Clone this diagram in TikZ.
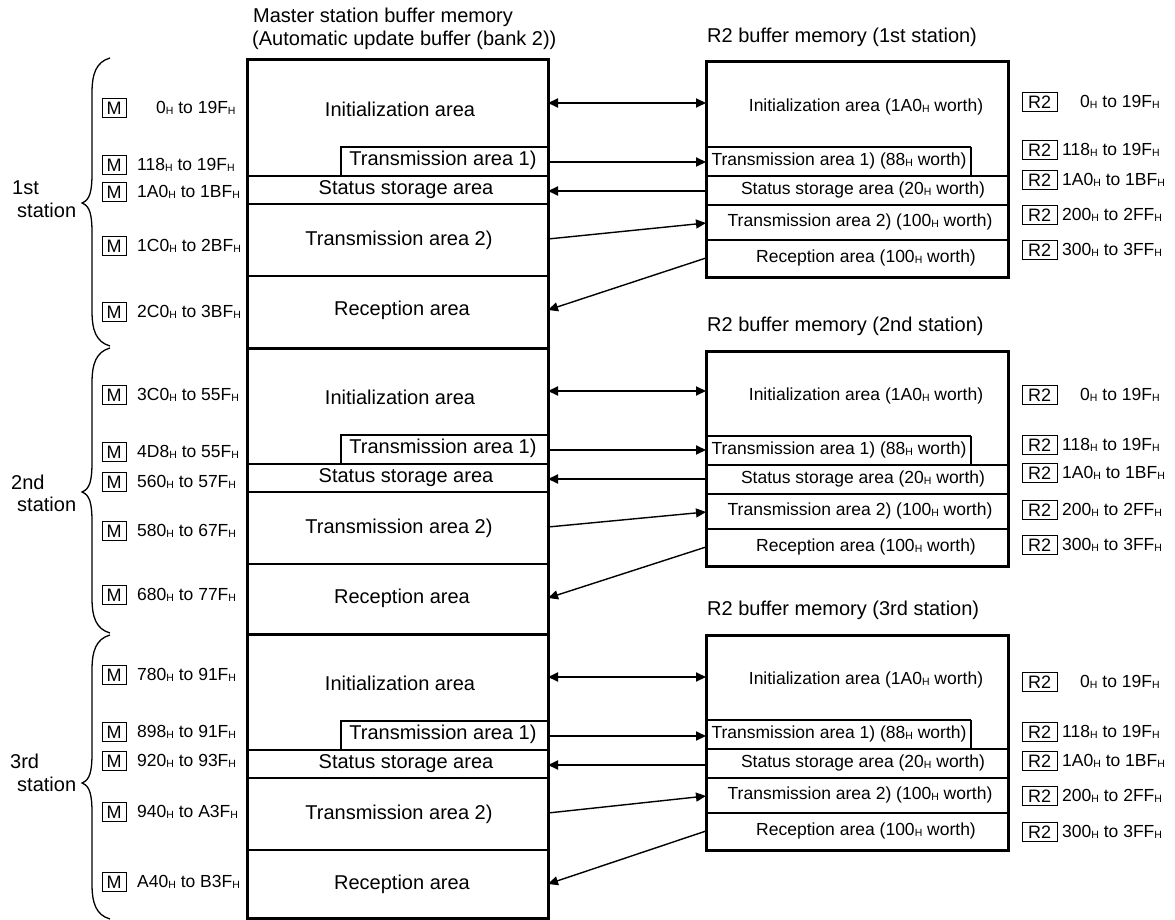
\documentclass[tikz,border=0pt]{standalone}
\usepackage{fontspec}
\setmainfont{Liberation Sans}
\usetikzlibrary{arrows.meta}
\newcommand{\subH}{\raisebox{-0.5pt}{\fontsize{10.5}{11}\selectfont H}}
\begin{document}
\begin{tikzpicture}[x=1pt,y=-1pt,
  outer/.style={line width=3pt},
  inner/.style={line width=2.1pt},
  thinline/.style={line width=1.5pt},
  mtext/.style={font=\fontsize{20}{24}\selectfont, inner sep=0pt},
  rtext/.style={font=\fontsize{17.5}{21}\selectfont, inner sep=0pt},
  lab/.style={font=\fontsize{17.5}{21}\selectfont, inner sep=0pt, anchor=west},
  tagbox/.style={draw, line width=1pt, font=\fontsize{18}{21}\selectfont, inner sep=0pt, minimum height=19.5pt},
  arr/.style={line width=2pt, -{Triangle[length=10pt,width=9pt]}},
  dblarr/.style={line width=2pt, {Triangle[length=10pt,width=9pt]}-{Triangle[length=10pt,width=9pt]}},
  sarr/.style={line width=1.4pt, -{Triangle[length=10pt,width=9pt]}},
  brc/.style={line width=1.3pt}]
\useasboundingbox (0,0) rectangle (1175,920);

% titles
\node[mtext, anchor=west] (mtitleA) at (253,17) {Master station buffer memory};
\node[mtext, anchor=west] (mtitleB) at (252,40) {(Automatic update buffer (bank 2))};

% master outer box
\draw[outer] (247,60) rectangle (548,918);

\foreach \s/\o/\r/\ord in {1/0/0/1st, 2/288/289/2nd, 3/574/573/3rd}{
  % master divisions
  \draw[outer] (247,60+\o) -- (548,60+\o);
  \draw[inner] (548,147+\o) -| (341,176+\o);
  \draw[inner] (247,176+\o) -- (548,176+\o);
  \draw[inner] (247,204+\o) -- (548,204+\o);
  \draw[inner] (247,276+\o) -- (548,276+\o);
  \node[mtext] (mInit\s) at (400,109+\o) {Initialization area};
  \node[mtext] (mTa\s) at (443,160+\o) {Transmission area 1)};
  \node[mtext] (mSt\s) at (406,190+\o) {Status storage area};
  \node[mtext] (mTb\s) at (399,240+\o) {Transmission area 2)};
  \node[mtext] (mRec\s) at (402,310+\o) {Reception area};
  % R2 box
  \node[mtext, anchor=west] (rTitle\s) at (707,37+\r) {R2 buffer memory (\ord{} station)};
  \draw[outer] (706,62+\r) rectangle (1008,277+\r);
  \draw[inner] (706,147+\r) -- (971,147+\r);
  \draw[thinline] (971,147+\r) -- (971,176+\r);
  \draw[inner] (706,176+\r) -- (1008,176+\r);
  \draw[inner] (706,205+\r) -- (1008,205+\r);
  \draw[inner] (706,240+\r) -- (1008,240+\r);
  \node[rtext] (rInit\s) at (866,107+\r) {Initialization area (1A0\subH{} worth)};
  \node[rtext] (rTa\s) at (839,161+\r) {Transmission area 1) (88\subH{} worth)};
  \node[rtext] (rSt\s) at (863,190+\r) {Status storage area (20\subH{} worth)};
  \node[rtext] (rTb\s) at (860,222+\r) {Transmission area 2) (100\subH{} worth)};
  \node[rtext] (rRec\s) at (866,258+\r) {Reception area (100\subH{} worth)};
  % connectors
  \coordinate (ma\s) at (548,103+\o); \coordinate (ra\s) at (706,103+\o);
  \draw[dblarr] (ma\s) -- (ra\s);
  \coordinate (mb\s) at (548,162+\o); \coordinate (rb\s) at (706,162+\o);
  \draw[arr] (mb\s) -- (rb\s);
  \coordinate (mc\s) at (548,191+\o); \coordinate (rc\s) at (706,191+\o);
  \draw[arr] (rc\s) -- (mc\s);
  \coordinate (md\s) at (548,239+\o); \coordinate (rd\s) at (706,223+\r);
  \draw[sarr] (md\s) -- (rd\s);
  \coordinate (me\s) at (548,310+\o); \coordinate (re\s) at (706,258+\r);
  \draw[sarr] (re\s) -- (me\s);
}

% braces
\foreach \t/\m/\b in {58/203/346, 348/492/633, 635/783/919}{
  \draw[brc] (110,\t) .. controls (96,\t+4) and (92,\t+16) .. (92,\t+35)
    -- (92,\m-30) .. controls (92,\m-12) and (90,\m-3) .. (82,\m)
    .. controls (90,\m+3) and (92,\m+12) .. (92,\m+30)
    -- (92,\b-35) .. controls (92,\b-16) and (96,\b-4) .. (110,\b);
}

% station names
\node[mtext, anchor=west] (sA1) at (12,188) {1st};
\node[mtext, anchor=west] (sA2) at (17,210) {station};
\node[mtext, anchor=west] (sB1) at (11,482) {2nd};
\node[mtext, anchor=west] (sB2) at (17,504) {station};
\node[mtext, anchor=west] (sC1) at (10,761) {3rd};
\node[mtext, anchor=west] (sC2) at (17,784) {station};

% left labels
\foreach \y/\txt/\x [count=\k] in {
  108/0\subH{} to 19F\subH/156, 165/118\subH{} to 19F\subH/137, 192/1A0\subH{} to 1BF\subH/137,
  246/1C0\subH{} to 2BF\subH/137, 312/2C0\subH{} to 3BF\subH/137,
  395/3C0\subH{} to 55F\subH/137, 452/4D8\subH{} to 55F\subH/137, 482/560\subH{} to 57F\subH/137,
  531/580\subH{} to 67F\subH/137, 595/680\subH{} to 77F\subH/137,
  675/780\subH{} to 91F\subH/137, 732/898\subH{} to 91F\subH/137, 761/920\subH{} to 93F\subH/137,
  812/940\subH{} to A3F\subH/137, 882/A40\subH{} to B3F\subH/137}{
  \node[tagbox, minimum width=24pt] (lm\k) at (114,\y) {M};
  \node[lab] (lt\k) at (\x,\y) {\txt};
}

% right labels
\foreach \y/\txt/\x [count=\k] in {
  102/0\subH{} to 19F\subH/1080, 150/118\subH{} to 19F\subH/1062, 180/1A0\subH{} to 1BF\subH/1062,
  215/200\subH{} to 2FF\subH/1062, 250/300\subH{} to 3FF\subH/1062,
  395/0\subH{} to 19F\subH/1080, 445/118\subH{} to 19F\subH/1062, 473/1A0\subH{} to 1BF\subH/1062,
  510/200\subH{} to 2FF\subH/1062, 545/300\subH{} to 3FF\subH/1062,
  682/0\subH{} to 19F\subH/1080, 732/118\subH{} to 19F\subH/1062, 761/1A0\subH{} to 1BF\subH/1062,
  796/200\subH{} to 2FF\subH/1062, 832/300\subH{} to 3FF\subH/1062}{
  \node[tagbox, minimum width=35pt] (rm\k) at (1039.5,\y) {R2};
  \node[lab] (rt\k) at (\x,\y) {\txt};
}
\end{tikzpicture}
\end{document}
